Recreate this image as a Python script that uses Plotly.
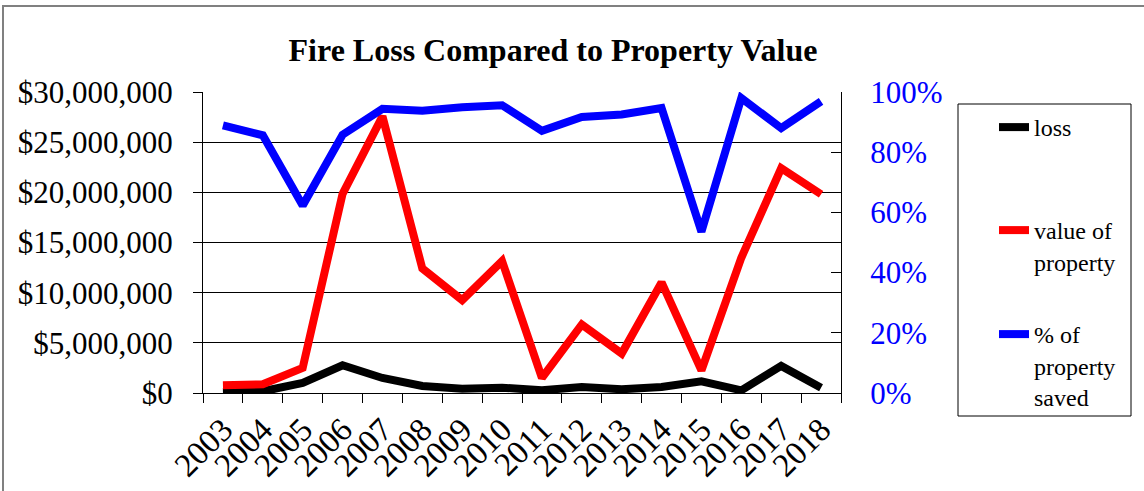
import plotly.graph_objects as go

years = [str(y) for y in range(2003, 2019)]
loss = [0.10e6, 0.17e6, 1.0e6, 2.76e6, 1.5e6, 0.7e6, 0.43e6, 0.53e6,
        0.27e6, 0.6e6, 0.37e6, 0.6e6, 1.17e6, 0.27e6, 2.7e6, 0.53e6]
value_of_property = [0.77e6, 0.87e6, 2.5e6, 19.85e6, 27.57e6, 12.42e6, 9.26e6, 13.15e6,
                     1.5e6, 6.83e6, 3.93e6, 11.02e6, 2.26e6, 13.48e6, 22.4e6, 19.81e6]
pct_saved = [0.889, 0.856, 0.623, 0.858, 0.944, 0.938, 0.949, 0.956,
             0.871, 0.917, 0.925, 0.947, 0.536, 0.980, 0.880, 0.969]

FONT = "Liberation Serif, Times New Roman, serif"
W, H = 1144, 491
L, R, T, B = 203, 841, 92, 393  # plot area in pixels


def px_x(p):
    return (p - L) / (R - L)


def px_y(p):
    return (B - p) / (B - T)


LEG_FONT = dict(family=FONT, size=24, color="black")


def leg(top):
    return dict(x=px_x(994), y=px_y(top), xanchor="left", yanchor="top",
                bgcolor="rgba(0,0,0,0)", borderwidth=0, valign="top",
                font=LEG_FONT, visible=True)


fig = go.Figure()
fig.add_trace(go.Scatter(x=years, y=loss, name="loss", mode="lines", showlegend=True,
                         line=dict(color="black", width=8), legend="legend"))
fig.add_trace(go.Scatter(x=years, y=value_of_property, name="value of<br>property", mode="lines",
                         showlegend=True,
                         line=dict(color="#ff0000", width=8), legend="legend2"))
fig.add_trace(go.Scatter(x=years, y=pct_saved, name="% of<br>property<br>saved", mode="lines",
                         showlegend=True,
                         line=dict(color="#0000ff", width=8), legend="legend3", yaxis="y2"))

fig.update_layout(
    width=W, height=H, showlegend=True,
    margin=dict(l=L, r=W - R, t=T, b=H - B, pad=0, autoexpand=False),
    paper_bgcolor="white", plot_bgcolor="white",
    font=dict(family=FONT, color="black", size=31),
    title=dict(text="<b>Fire Loss Compared to Property Value</b>",
               x=553 / W, xanchor="center", y=1 - 50 / H, yanchor="middle",
               font=dict(family=FONT, size=32, color="black")),
    xaxis=dict(type="category", range=[-0.5, 15.5], tickson="boundaries",
               tickmode="array", tickvals=years, ticktext=years, automargin=False,
               ticks="outside", ticklen=9, tickcolor="black", tickangle=-45,
               showline=True, linecolor="black", linewidth=1, showgrid=False,
               ticklabelstandoff=3,
               tickfont=dict(family=FONT, size=33, color="black")),
    yaxis=dict(range=[0, 30e6], dtick=5e6, tickformat="$,.0f", automargin=False,
               ticks="outside", ticklen=9, tickcolor="black",
               showline=True, linecolor="black", linewidth=1,
               showgrid=True, gridcolor="black", gridwidth=1, zeroline=False,
               ticklabelstandoff=14,
               tickfont=dict(family=FONT, size=31, color="black")),
    yaxis2=dict(range=[0, 1], dtick=0.2, tickformat=".0%", overlaying="y", side="right",
                automargin=False,
                ticks="inside", ticklen=10, tickcolor="black",
                showline=True, linecolor="black", linewidth=1,
                showgrid=False, zeroline=False, ticklabelstandoff=22,
                tickfont=dict(family=FONT, size=31, color="#0000ff")),
    legend=leg(105),
    legend2=leg(208),
    legend3=leg(312),
    shapes=[
        dict(type="rect", xref="paper", yref="paper",
             x0=px_x(958), x1=px_x(1131), y0=px_y(416), y1=px_y(104),
             line=dict(color="black", width=1), fillcolor="rgba(0,0,0,0)"),
        dict(type="rect", xref="paper", yref="paper",
             x0=px_x(3), x1=px_x(1150), y0=px_y(498), y1=px_y(6),
             line=dict(color="#808080", width=2), fillcolor="rgba(0,0,0,0)"),
    ],
)

fig.write_html("out.html", config={"displayModeBar": False},
               post_script="document.body.style.margin='0px';")
